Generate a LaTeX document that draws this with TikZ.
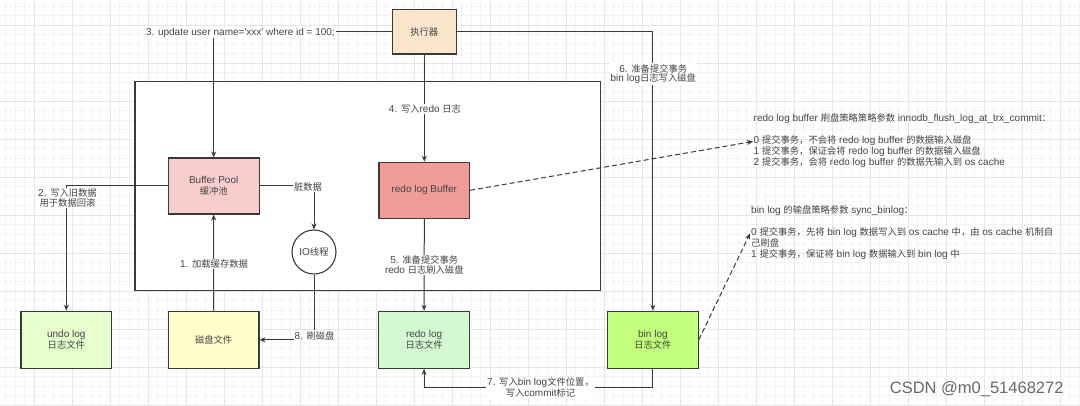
\documentclass[tikz,border=0pt]{standalone}
\usepackage{fontspec}
\setmainfont{Liberation Sans}[Ligatures=TeXOff]
\newfontfamily\cjkfont{Noto Sans CJK SC}[Scale=0.93]
\usepackage{tikz}
\usetikzlibrary{arrows.meta,positioning}

% Latin in Liberation Sans, Chinese switched to Noto Sans CJK
\XeTeXinterchartokenstate=1
\newXeTeXintercharclass\cjkclass
\newcount\cjkcode
\def\cjkrange#1#2{\cjkcode=#1\relax
	\loop\XeTeXcharclass\cjkcode=\cjkclass
	\ifnum\cjkcode<#2\relax\advance\cjkcode by 1\repeat}
\cjkrange{"3000}{"303F}
\cjkrange{"4E00}{"9FFF}
\cjkrange{"FF00}{"FFEF}
\XeTeXinterchartoks 0 \cjkclass = {\cjkfont}
\XeTeXinterchartoks 4095 \cjkclass = {\cjkfont}
\XeTeXinterchartoks \cjkclass 0 = {\rmfamily}
\XeTeXinterchartoks \cjkclass 4095 = {\rmfamily}

\definecolor{edge}{HTML}{3A3A3A}
\definecolor{txt}{HTML}{444444}
\definecolor{execfill}{RGB}{251,230,205}
\definecolor{poolfill}{HTML}{F8CECC}
\definecolor{rbuffill}{HTML}{F19C99}
\definecolor{undofill}{HTML}{E6FFCC}
\definecolor{diskfill}{HTML}{FFFFCC}
\definecolor{rfilefill}{RGB}{212,248,208}
\definecolor{blogfill}{RGB}{194,255,122}
\definecolor{gridminor}{RGB}{244,244,244}
\definecolor{gridmajor}{RGB}{230,230,230}
\definecolor{wmark}{RGB}{105,105,105}

\begin{document}
\begin{tikzpicture}
			[x=1pt, y=-1pt, font=\fontsize{10}{10}\selectfont, inner sep=0pt, text=txt,
			box/.style		= {draw=edge, line width=1.1pt, rectangle, minimum width=90.7pt, minimum height=57pt, align=center, font=\fontsize{10}{10.5}\selectfont},
			frame/.style	= {draw=edge, line width=1.1pt, fill=white, rectangle},
			lbl/.style		= {fill=white, inner sep=1pt, align=center, font=\fontsize{10}{9.7}\selectfont},
			note/.style		= {anchor=west, align=left, font=\fontsize{10}{11.1}\selectfont},
			flow/.style		= {draw=edge, line width=1pt, -{Stealth[length=6pt, width=5pt]}},
			dashflow/.style	= {flow, dash pattern=on 5pt off 3pt},
			minor/.style	= {draw=gridminor, line width=0.6pt},
			major/.style	= {draw=gridmajor, line width=0.6pt}]
			
			\useasboundingbox (0,0) rectangle (1080,406);
			
			% grid of the canvas
			\foreach \k in {-4,...,110} \draw [minor] ({34+9.5*\k},0) -- ({34+9.5*\k},406);
			\foreach \k in {-3,...,40} \draw [minor] (0,{25+9.5*\k}) -- (1080,{25+9.5*\k});
			\foreach \k in {-1,...,27} \draw [major] ({34+38*\k},0) -- ({34+38*\k},406);
			\foreach \k in {0,...,10} \draw [major] (0,{25+38*\k}) -- (1080,{25+38*\k});
			
			\node [frame, minimum width=465.7pt, minimum height=209.4pt] at (367.85,186) (mysql) {};
			
			\node [box, fill=execfill, minimum width=64pt, minimum height=44.7pt] at (424.3,31.7) (exec) {执行器};
			\node [box, fill=poolfill, minimum height=56pt] at (213.7,186) (pool) {Buffer Pool\\缓冲池};
			\node [box, fill=rbuffill, minimum height=56pt] at (424.3,190.3) (rbuf) {redo log Buffer};
			\node [circle, draw=edge, line width=1.1pt, fill=white, minimum size=44pt] at (314,252) (io) {IO线程};
			
			\node [box, fill=undofill] at (66.3,339.8) (undo) {undo log\\日志文件};
			\node [box, fill=diskfill, right=55.5pt of undo] (disk) {磁盘文件};
			\node [box, fill=rfilefill, right=118.7pt of disk] (rfile) {redo log\\日志文件};
			\node [box, fill=blogfill, right=137pt of rfile] (blog) {bin log\\日志文件};
			
			\draw [flow] (exec.west) -| (pool.north);
			\draw [flow] (pool.west) -| (undo.north);
			\draw [flow] (pool.east) -| (io.north);
			\draw [flow] (exec.south) -- (rbuf.north);
			\draw [flow] (disk.north) -- (pool.south);
			\draw [flow] (rbuf.south) -- (rfile.north);
			\draw [flow] (exec.east) -| (blog.north);
			\draw [flow] (blog.south) -- ++(0,19) -| (rfile.south);
			\draw [flow] (io.south) |- (disk.east);
			
			\node [lbl] at (240.4,32.7) (l3) {3. update user name='xxx' where id = 100;};
			\node [lbl] at (67.5,198) (l2) {2. 写入旧数据\\用于数据回滚};
			\node [lbl] at (308,186.5) (l0) {脏数据};
			\node [lbl] at (425,109) (l4) {4. 写入redo 日志};
			\node [lbl] at (214,264) (l1) {1. 加载缓存数据};
			\node [lbl] at (424.3,265.2) (l5) {5. 准备提交事务\\redo 日志刷入磁盘};
			\node [lbl] at (653.3,74) (l6) {6. 准备提交事务\\bin log日志写入磁盘};
			\node [lbl] at (540.5,387.8) (l7) {7. 写入bin log文件位置，\\写入commit标记};
			\node [lbl] at (314.5,335.5) (l8) {8. 刷磁盘};
			
			% notes on the flush settings
			\coordinate (t1) at (753,141.5);
			\coordinate (t2) at (750,233.5);
			\draw [dashflow] (rbuf.east) -- (t1);
			\draw [dashflow] (blog.east) -- (t2);
			\node [note] at (753.5,140.5) (n1) {redo log buffer 刷盘策略策略参数 innodb\_flush\_log\_at\_trx\_commit：\\[11.1pt]0 提交事务，不会将 redo log buffer 的数据输入磁盘\\1 提交事务，保证会将 redo log buffer 的数据输入磁盘\\2 提交事务，会将 redo log buffer 的数据先输入到 os cache};
			\node [note] at (751,232.8) (n2) {bin log 的输盘策略参数 sync\_binlog：\\[11.1pt]0 提交事务，先将 bin log 数据写入到 os cache 中，由 os cache 机制自\\己刷盘\\1 提交事务，保证将 bin log 数据输入到 bin log 中};
			
			\node [text=wmark, font=\fontsize{16.5}{16.5}\selectfont] at (976.7,388.7) (csdn) {CSDN @m0\_51468272};
			\end{tikzpicture}
\end{document}
